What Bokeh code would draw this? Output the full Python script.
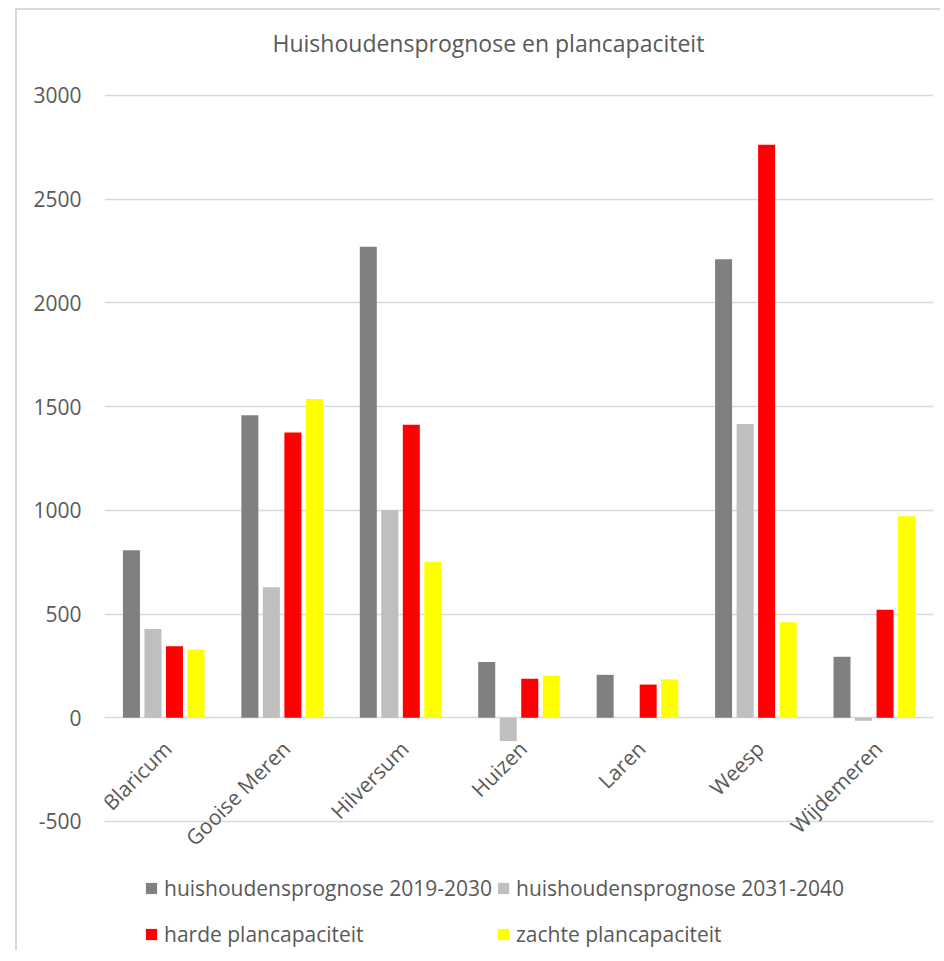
import math
from bokeh.plotting import figure
from bokeh.models import (ColumnDataSource, FactorRange, Range1d, Legend, LegendItem,
                          LabelSet, FixedTicker)
from bokeh.core.properties import value
from bokeh.transform import dodge
from bokeh.embed import file_html
from bokeh.resources import INLINE

# ---- data ----
gemeenten = ["Blaricum", "Gooise Meren", "Hilversum", "Huizen", "Laren", "Weesp", "Wijdemeren"]
prognose_2019_2030 = [808, 1458, 2270, 269, 207, 2210, 294]
prognose_2031_2040 = [428, 629, 1000, -112, 0, 1416, -15]
harde_plancapaciteit = [345, 1375, 1412, 188, 160, 2762, 521]
zachte_plancapaciteit = [329, 1537, 752, 203, 185, 460, 971]
series_names = ["huishoudensprognose 2019-2030", "huishoudensprognose 2031-2040",
                "harde plancapaciteit", "zachte plancapaciteit"]
series_cols = ["p1930", "p3140", "harde", "zachte"]
colors = ["#808080", "#bfbfbf", "#ff0000", "#ffff00"]
y_ticks = [-500, 0, 500, 1000, 1500, 2000, 2500, 3000]
y_tick_labels = {-500: "-500", 0: "0", 500: "500", 1000: "1000", 1500: "1500",
                 2000: "2000", 2500: "2500", 3000: "3000"}
title_text = "Huishoudensprognose en plancapaciteit"

FONT = "Open Sans"
TXT = "#595959"

src = ColumnDataSource(dict(
    gemeente=gemeenten,
    p1930=prognose_2019_2030,
    p3140=prognose_2031_2040,
    harde=harde_plancapaciteit,
    zachte=zachte_plancapaciteit,
    base=[0] * len(gemeenten),
))

# plot frame extends beyond the -500..3000 grid so that the category labels
# and the legend (drawn inside it) are not clipped
p = figure(x_range=FactorRange(*gemeenten, range_padding=0),
           y_range=Range1d(-1122, 3154),
           width=925, height=942,
           output_backend="svg", toolbar_location=None,
           min_border_left=87, min_border_right=9,
           min_border_top=53, min_border_bottom=2)
p.styles = {"border-left": "2px solid #d9d9d9", "border-top": "2px solid #d9d9d9",
            "margin-left": "15px", "margin-top": "8px"}

p.title.text = title_text
p.title.text_font = FONT
p.title.text_font_size = "23px"
p.title.text_font_style = "normal"
p.title.text_color = TXT
p.title.align = "left"
p.title.offset = 168
p.title.standoff = 10

offsets = [-0.2725, -0.0908, 0.0908, 0.2725]
renderers = []
for col, off, c in zip(series_cols, offsets, colors):
    r = p.vbar(x=dodge("gemeente", off, range=p.x_range), top=col, bottom=0,
               width=0.1436, source=src, fill_color=c, line_color=None)
    renderers.append(r)

p.xaxis.visible = False
p.xgrid.grid_line_color = None
p.yaxis.ticker = FixedTicker(ticks=y_ticks)
p.yaxis.major_label_overrides = y_tick_labels
p.ygrid.ticker = FixedTicker(ticks=y_ticks)
p.ygrid.grid_line_color = "#d9d9d9"
p.ygrid.grid_line_width = 1.5
p.yaxis.axis_line_color = None
p.yaxis.major_tick_line_color = None
p.yaxis.minor_tick_line_color = None
p.yaxis.major_tick_out = 0
p.yaxis.major_tick_in = 0
p.yaxis.major_label_standoff = 23
p.yaxis.major_label_text_font = FONT
p.yaxis.major_label_text_font_size = "21px"
p.yaxis.major_label_text_color = TXT
p.outline_line_color = None

labels = LabelSet(x="gemeente", y="base", text="gemeente", source=src,
                  angle=math.pi / 4, text_align="right", text_baseline="middle",
                  x_offset=4, y_offset=-27,
                  text_font=value(FONT), text_font_size=value("21px"), text_color=TXT)
p.add_layout(labels)

def make_legend(idx, loc):
    leg = Legend(items=[LegendItem(label=series_names[i], renderers=[renderers[i]]) for i in idx],
                 orientation="horizontal", location=loc,
                 glyph_width=14, glyph_height=14, label_standoff=6, spacing=2,
                 label_width=330, padding=0, margin=0,
                 border_line_color=None, background_fill_alpha=0,
                 label_text_font=FONT, label_text_font_size="21px", label_text_color=TXT)
    return leg

p.add_layout(make_legend([0, 1], (40, 48)))
p.add_layout(make_legend([2, 3], (40, 2)))

open("out.html", "w").write(file_html(p, INLINE))
